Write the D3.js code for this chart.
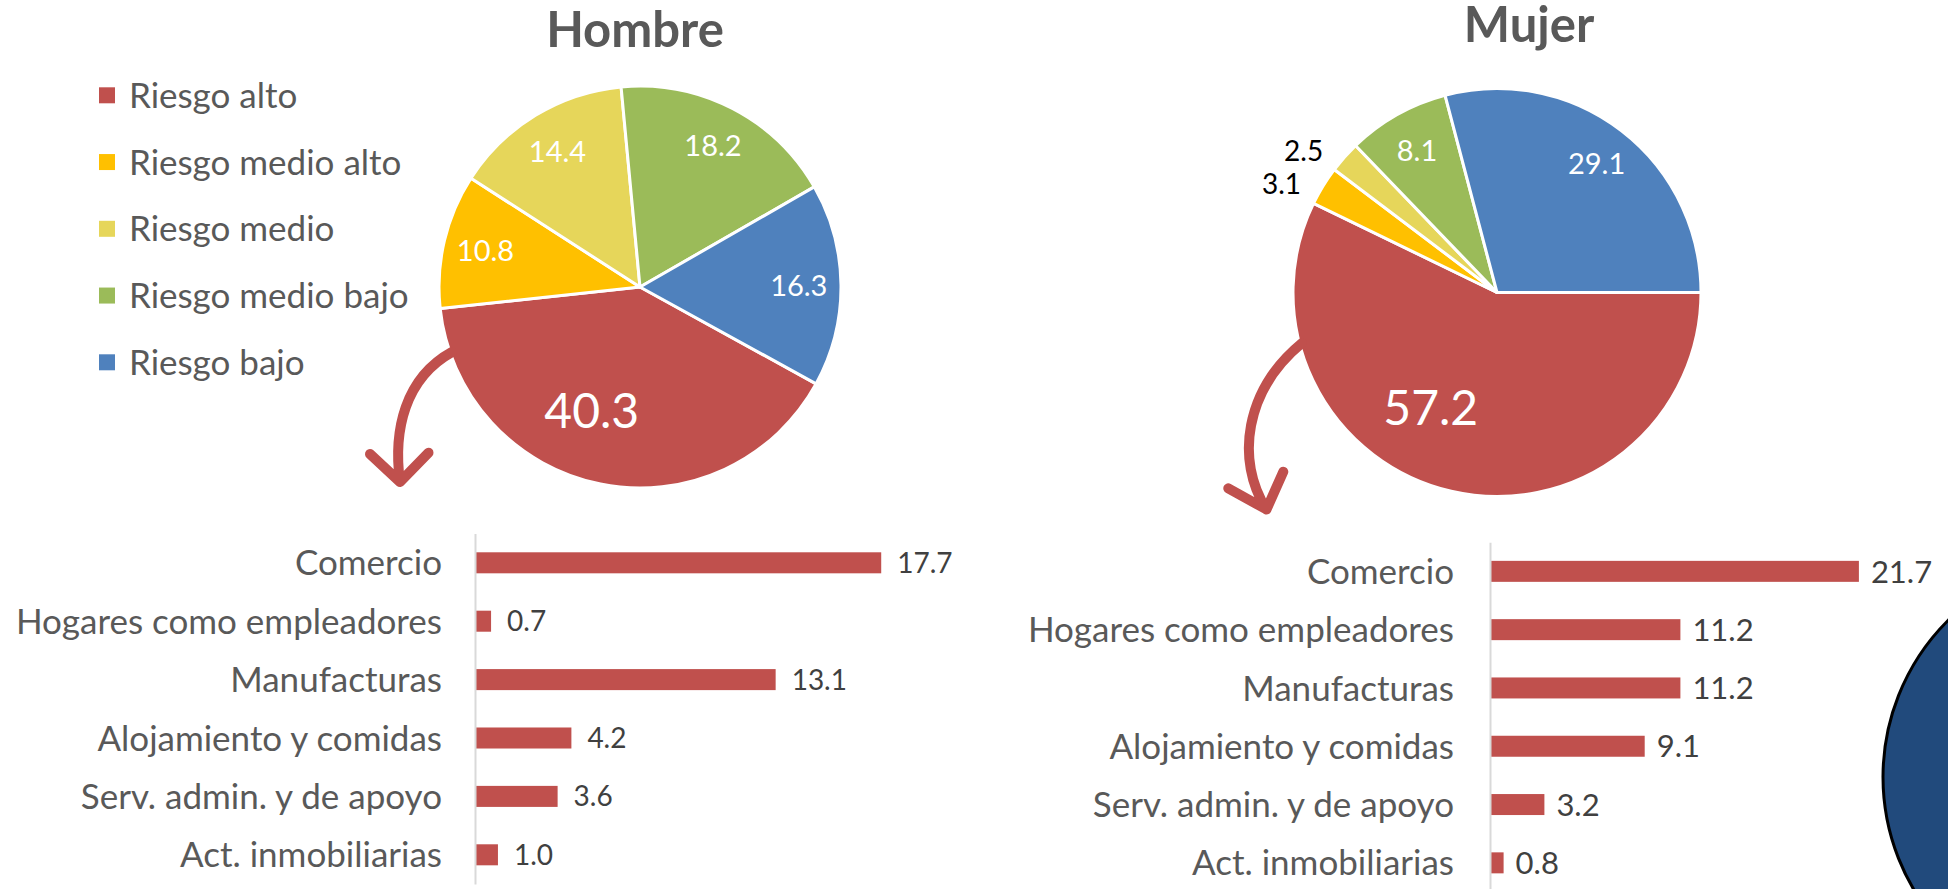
<!DOCTYPE html>
<html><head><meta charset="utf-8">
<script src="https://cdn.jsdelivr.net/npm/d3@7"></script>
<style>
html,body{margin:0;padding:0;background:#fff;overflow:hidden}
svg{display:block}
text{font-family:Lato,"Open Sans",sans-serif}
</style></head><body>
<svg id="chart" width="1948" height="889"></svg>
<script>
// ---- data ----
const riskCategories = ["Riesgo alto", "Riesgo medio alto", "Riesgo medio", "Riesgo medio bajo", "Riesgo bajo"];
const riskColors = ["#C0504D", "#FFC000", "#E6D65A", "#9BBB59", "#4F81BD"];
const hombreRisk = [40.3, 10.8, 14.4, 18.2, 16.3];
const mujerRisk = [57.2, 3.1, 2.5, 8.1, 29.1];
const sectors = ["Comercio", "Hogares como empleadores", "Manufacturas", "Alojamiento y comidas", "Serv. admin. y de apoyo", "Act. inmobiliarias"];
const hombreSector = [17.7, 0.7, 13.1, 4.2, 3.6, 1.0];
const mujerSector = [21.7, 11.2, 11.2, 9.1, 3.2, 0.8];
const pieTitles = ["Hombre", "Mujer"];

const svg = d3.select("#chart");
const fmt = d3.format(".1f");
const deg = Math.PI / 180;
const barColor = "#C0504D";

// ---- decorative circle at right ----
svg.append("circle").attr("cx", 2104).attr("cy", 777).attr("r", 221)
  .attr("fill", "#214A7C").attr("stroke", "#000").attr("stroke-width", 3);

// ---- pies ----
function drawPie(cfg) {
  const g = svg.append("g").attr("transform", `translate(${cfg.cx},${cfg.cy})`);
  const pie = d3.pie().sort(null).startAngle(cfg.start).endAngle(cfg.start + 2 * Math.PI);
  const arcs = pie(cfg.values);
  const arc = d3.arc().innerRadius(0).outerRadius(cfg.r);
  g.selectAll("path.slice").data(arcs).join("path").attr("class", "slice")
    .attr("d", arc).attr("fill", (d, i) => riskColors[i])
    .attr("stroke", "#fff").attr("stroke-width", 3).attr("stroke-linejoin", "round");

  // arrow
  const a = cfg.arrow;
  const p = d3.path();
  p.moveTo(a[0][0], a[0][1]);
  p.bezierCurveTo(a[1][0], a[1][1], a[2][0], a[2][1], a[3][0], a[3][1]);
  p.moveTo(a[4][0], a[4][1]); p.lineTo(a[3][0], a[3][1]); p.lineTo(a[5][0], a[5][1]);
  g.append("path").attr("d", p.toString()).attr("fill", "none").attr("stroke", barColor)
    .attr("stroke-width", 10).attr("stroke-linecap", "round").attr("stroke-linejoin", "round");

  g.selectAll("text.lab").data(arcs).join("text").attr("class", "lab")
    .each(function (d, i) {
      let ang = (d.startAngle + d.endAngle) / 2;
      let rad, size, fill, anchor;
      if (i === 0) { ang += cfg.bigShift; rad = cfg.bigR * cfg.r; size = 48; fill = "#fff"; anchor = "middle"; }
      else if (d.data < 5) { ang += cfg.outShift; rad = cfg.outR; size = 28; fill = "#000"; anchor = "end"; }
      else { rad = cfg.labR * cfg.r; size = 29; fill = "#fff"; anchor = "middle"; }
      d3.select(this).attr("x", Math.sin(ang) * rad).attr("y", -Math.cos(ang) * rad)
        .attr("dy", "0.36em").attr("text-anchor", anchor).attr("font-size", size)
        .attr("fill", fill).text(fmt(d.data));
    });

  svg.append("text").attr("x", cfg.titleX).attr("y", cfg.titleY).attr("text-anchor", "middle")
    .attr("font-size", 49).attr("font-weight", "bold").attr("fill", "#595959").text(cfg.title);
}

drawPie({
  values: hombreRisk, title: pieTitles[0], cx: 640, cy: 287, r: 201, start: 118.8 * deg,
  labR: 0.79, bigR: 0.66, bigShift: 10 * deg, outR: 224, outShift: -2.5 * deg, titleX: 635, titleY: 47,
  arrow: [[-188, 65], [-235, 91], [-247, 143], [-240, 195], [-270, 167], [-211.5, 165.7]]
});
drawPie({
  values: mujerRisk, title: pieTitles[1], cx: 1497, cy: 292.5, r: 204, start: 90 * deg,
  labR: 0.80, bigR: 0.65, bigShift: 17 * deg, outR: 224, outShift: -2.5 * deg, titleX: 1529, titleY: 42,
  arrow: [[-195, 50.5], [-252, 97.5], [-262, 167.5], [-230.5, 217], [-268.7, 195.8], [-213.7, 179.2]]
});

// ---- legend ----
const leg = svg.append("g");
riskCategories.forEach((c, i) => {
  const yy = 95.3 + i * 66.75;
  leg.append("rect").attr("x", 99).attr("y", yy - 8).attr("width", 16).attr("height", 16).attr("fill", riskColors[i]);
  leg.append("text").attr("x", 129).attr("y", yy).attr("dy", "0.36em").attr("font-size", 35)
    .attr("fill", "#595959").text(c);
});

// ---- bars ----
function drawBars(cfg) {
  const x = d3.scaleLinear().domain([0, cfg.max]).range([cfg.x0, cfg.x1]);
  const y = d3.scaleBand().domain(sectors).range([cfg.y0, cfg.y0 + sectors.length * cfg.step])
    .paddingInner(0.64).paddingOuter(0.32);
  const g = svg.append("g");
  g.selectAll("rect").data(cfg.values).join("rect")
    .attr("x", x(0)).attr("y", (d, i) => y(sectors[i]))
    .attr("width", d => x(d) - x(0)).attr("height", y.bandwidth()).attr("fill", barColor);
  g.selectAll("text.val").data(cfg.values).join("text").attr("class", "val")
    .attr("x", d => x(d) + cfg.valGap).attr("y", (d, i) => y(sectors[i]) + y.bandwidth() / 2)
    .attr("dy", "0.36em").attr("font-size", cfg.valSize).attr("fill", "#404040").text(d => fmt(d));
  const ax = g.append("g").attr("transform", `translate(${x(0)},0)`)
    .call(d3.axisLeft(y).tickSize(0).tickSizeOuter(0).tickPadding(cfg.pad));
  ax.select(".domain").attr("stroke", "#D9D9D9").attr("stroke-width", 2);
  ax.selectAll(".tick text").attr("font-size", 35).attr("fill", "#595959")
    .attr("font-family", "Lato, 'Open Sans', sans-serif").attr("dy", "0.36em");
}

drawBars({ values: hombreSector, max: 20, x0: 475, x1: 475 + 20 * 22.95, y0: 533.6, step: 58.4, valGap: 16, valSize: 28, pad: 33 });
drawBars({ values: mujerSector, max: 25, x0: 1490, x1: 1490 + 25 * 17.0, y0: 542.2, step: 58.3, valGap: 12, valSize: 31, pad: 36 });
</script>
</body></html>
